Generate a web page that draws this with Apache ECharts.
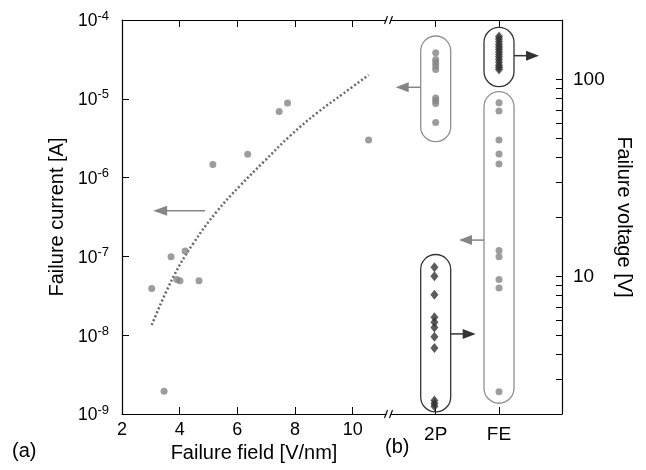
<!DOCTYPE html>
<html><head><meta charset="utf-8">
<script src="https://cdn.jsdelivr.net/npm/echarts@6/dist/echarts.min.js"></script>
<style>html,body{margin:0;padding:0;background:#fff}#c{width:646px;height:470px}</style>
</head><body><div id="c"></div>
<script>
// ---- Panel (a): failure current vs failure field ----
const fieldA   = [3.03, 3.46, 3.70, 3.90, 4.01, 4.19, 4.67, 5.15, 6.36, 7.45, 7.74, 10.55];
const currentA = [3.9e-8, 1.94e-9, 9.9e-8, 5.1e-8, 4.9e-8, 1.17e-7, 4.9e-8, 1.47e-6, 1.98e-6, 6.9e-6, 8.85e-6, 3.0e-6];
// dotted fit curve
const fitField   = [3.03, 3.78, 4.48, 5.29, 6.10, 6.91, 7.83, 8.76, 9.68, 10.55];
const fitCurrent = [1.35e-8, 5.5e-8, 1.48e-7, 3.72e-7, 7.94e-7, 1.58e-6, 3.39e-6, 6.61e-6, 1.17e-5, 2.0e-5];
const fieldTicks = [2, 4, 6, 8, 10];
const currentTicks = [1e-9, 1e-8, 1e-7, 1e-6, 1e-5, 1e-4];
// arrow in (a): [fromField, toField, current]
const arrowA = [[4.88, 3.08, 3.8e-7]];

// ---- Panel (b): categories ----
const groups = ['2P', 'FE'];           // x = 1, 2
const current2P = [3.85e-5, 3.16e-5, 2.89e-5, 2.61e-5, 2.35e-5, 1.02e-5, 9.5e-6, 8.7e-6, 5.0e-6];
const currentFE = [8.9e-6, 7.0e-6, 2.99e-6, 1.99e-6, 1.49e-6, 1.19e-7, 9.9e-8, 5.1e-8, 3.97e-8, 1.92e-9];
const voltageFE = [165, 160, 155, 150, 146, 142, 138, 134, 130, 126, 122, 118, 115, 112];
const voltage2P = [11.1, 10.0, 8.07, 6.19, 5.85, 5.50, 4.93, 4.32, 2.34, 2.26, 2.19];
const voltageTicks = [3, 4, 5, 6, 7, 8, 9, 10, 20, 30, 40, 50, 60, 70, 80, 90, 100];
const voltageLabels = [10, 100];
// group outlines: [group x, low, high]
const outlineCurrent = [[1, 2.86e-6, 6.27e-5], [2, 1.37e-9, 1.23e-5]];
const outlineVoltage = [[2, 91.8, 183.6], [1, 2.05, 12.9]];
// arrows: [group x, value, direction]
const arrowCurrent = [[1, 1.4e-5, -1], [2, 1.61e-7, -1]];
const arrowVoltage = [[2, 131.8, 1], [1, 5.1, 1]];

const FONT = 'Liberation Sans, Arial, Helvetica, sans-serif';
const GRAY = '#858585', DARK = '#333333';

const supLabel = {
  formatter: v => '{m|10}{s|' + Math.round(Math.log10(v)) + '}',
  rich: {
    m: {fontSize: 17.5, fontFamily: FONT, color: '#000', verticalAlign: 'bottom'},
    s: {fontSize: 13, fontFamily: FONT, color: '#000', verticalAlign: 'bottom', padding: [0, 0, 8, 0]}
  }
};

function outlineItem(color) {
  return function (params, api) {
    const x = api.value(0);
    const top = api.coord([x, api.value(2)]);
    const bot = api.coord([x, api.value(1)]);
    const w = 30;
    return {type: 'rect', shape: {x: top[0] - w / 2, y: top[1], width: w, height: bot[1] - top[1], r: w / 2},
      style: {fill: 'none', stroke: color, lineWidth: 1.3}};
  };
}
function arrowItem(color) {
  return function (params, api) {
    const p = api.coord([api.value(0), api.value(1)]);
    const d = api.value(2);
    const x0 = p[0] + d * 15, x1 = x0 + d * 25, y = p[1];
    return {type: 'group', children: [
      {type: 'line', shape: {x1: x0, y1: y, x2: x1 - d * 10, y2: y}, style: {stroke: color, lineWidth: 1.5}},
      {type: 'polygon', shape: {points: [[x1, y], [x1 - d * 13, y - 5], [x1 - d * 13, y + 5]]}, style: {fill: color}}
    ]};
  };
}

const chart = echarts.init(document.getElementById('c'));
chart.setOption({
  animation: false,
  backgroundColor: '#fff',
  textStyle: {fontFamily: FONT},
  grid: [
    {left: 122, top: 20, width: 264, height: 394},
    {left: 391, top: 20, width: 171, height: 394}
  ],
  xAxis: [
    {gridIndex: 0, type: 'value', position: 'bottom', min: 2, max: 11.154, interval: 2,
      axisLine: {lineStyle: {color: '#000', width: 1.2}},
      axisTick: {inside: true, length: 7, lineStyle: {color: '#000'}, customValues: fieldTicks},
      axisLabel: {fontSize: 18, color: '#000', margin: 7, fontFamily: FONT, customValues: fieldTicks},
      splitLine: {show: false},
      name: 'Failure field [V/nm]', nameLocation: 'middle', nameGap: 26,
      nameTextStyle: {fontSize: 20, color: '#000', fontFamily: FONT}},
    {gridIndex: 0, type: 'value', position: 'top', min: 2, max: 11.154, interval: 2,
      axisLine: {lineStyle: {color: '#000', width: 1.2}},
      axisTick: {inside: true, length: 7, lineStyle: {color: '#000'}, customValues: fieldTicks},
      axisLabel: {show: false}, splitLine: {show: false}},
    {gridIndex: 1, type: 'value', position: 'bottom', min: 0.294, max: 2.995,
      axisLine: {lineStyle: {color: '#000', width: 1.2}},
      axisTick: {inside: true, length: 7, lineStyle: {color: '#000'}, customValues: [1, 2]},
      axisLabel: {fontSize: 19, color: '#000', margin: 11, fontFamily: FONT, customValues: [1, 2],
        formatter: v => groups[Math.round(v) - 1] || ''},
      splitLine: {show: false}},
    {gridIndex: 1, type: 'value', position: 'top', min: 0.294, max: 2.995,
      axisLine: {lineStyle: {color: '#000', width: 1.2}},
      axisTick: {inside: true, length: 7, lineStyle: {color: '#000'}, customValues: [1, 2]},
      axisLabel: {show: false}, splitLine: {show: false}}
  ],
  yAxis: [
    {gridIndex: 0, type: 'log', logBase: 10, min: 1e-9, max: 1e-4, position: 'left',
      axisLine: {show: true, lineStyle: {color: '#000', width: 1.2}},
      axisTick: {show: true, inside: true, length: 7, lineStyle: {color: '#000'}, customValues: currentTicks},
      axisLabel: Object.assign({margin: 13, customValues: currentTicks}, supLabel),
      splitLine: {show: false}, minorTick: {show: false},
      name: 'Failure current [A]', nameLocation: 'middle', nameGap: 55, nameRotate: 90,
      nameTextStyle: {fontSize: 20, color: '#000', fontFamily: FONT}},
    {gridIndex: 1, type: 'log', logBase: 10, min: 1e-9, max: 1e-4, position: 'left',
      axisLine: {show: false}, axisTick: {show: false}, axisLabel: {show: false}, splitLine: {show: false}},
    {gridIndex: 1, type: 'log', logBase: 10, min: 2, max: 200, position: 'right',
      axisLine: {show: true, lineStyle: {color: '#000', width: 1.2}},
      axisTick: {show: true, inside: true, length: 6, lineStyle: {color: '#000'}, customValues: voltageTicks},
      axisLabel: {fontSize: 19, color: '#000', margin: 11, fontFamily: FONT, customValues: voltageLabels,
        formatter: v => String(Math.round(v))},
      splitLine: {show: false}, minorTick: {show: false},
      name: 'Failure voltage [V]', nameLocation: 'middle', nameGap: 52, nameRotate: -90,
      nameTextStyle: {fontSize: 20, color: '#000', fontFamily: FONT}}
  ],
  series: [
    {type: 'line', xAxisIndex: 0, yAxisIndex: 0, data: fitField.map((x, i) => [x, fitCurrent[i]]),
      smooth: 0.4, showSymbol: false, symbol: 'none',
      lineStyle: {color: '#6a6a6a', width: 2.5, type: [2, 2.3]}, z: 2},
    {type: 'scatter', xAxisIndex: 0, yAxisIndex: 0, data: fieldA.map((x, i) => [x, currentA[i]]),
      symbol: 'circle', symbolSize: 7, itemStyle: {color: GRAY}, z: 3},
    {type: 'custom', xAxisIndex: 0, yAxisIndex: 0, data: arrowA, clip: false,
      renderItem: (params, api) => {
        const a = api.coord([api.value(0), api.value(2)]);
        const b = api.coord([api.value(1), api.value(2)]);
        return {type: 'group', children: [
          {type: 'line', shape: {x1: a[0], y1: a[1], x2: b[0] + 10, y2: b[1]}, style: {stroke: GRAY, lineWidth: 1.5}},
          {type: 'polygon', shape: {points: [[b[0], b[1]], [b[0] + 14, b[1] - 5], [b[0] + 14, b[1] + 5]]}, style: {fill: GRAY}}
        ]};
      }},
    {type: 'scatter', xAxisIndex: 2, yAxisIndex: 1, data: current2P.map(v => [1, v]),
      symbol: 'circle', symbolSize: 7, itemStyle: {color: GRAY}, z: 3},
    {type: 'scatter', xAxisIndex: 2, yAxisIndex: 1, data: currentFE.map(v => [2, v]),
      symbol: 'circle', symbolSize: 7, itemStyle: {color: GRAY}, z: 3},
    {type: 'scatter', xAxisIndex: 2, yAxisIndex: 2, data: voltageFE.map(v => [2, v]),
      symbol: 'diamond', symbolSize: [8, 10], itemStyle: {color: DARK}, z: 3},
    {type: 'scatter', xAxisIndex: 2, yAxisIndex: 2, data: voltage2P.map(v => [0.98, v]),
      symbol: 'diamond', symbolSize: [8, 10], itemStyle: {color: DARK}, z: 3},
    {type: 'custom', xAxisIndex: 2, yAxisIndex: 1, data: outlineCurrent, clip: false, renderItem: outlineItem('#8f8f8f')},
    {type: 'custom', xAxisIndex: 2, yAxisIndex: 2, data: outlineVoltage, clip: false, renderItem: outlineItem(DARK)},
    {type: 'custom', xAxisIndex: 2, yAxisIndex: 1, data: arrowCurrent, clip: false, renderItem: arrowItem(GRAY)},
    {type: 'custom', xAxisIndex: 2, yAxisIndex: 2, data: arrowVoltage, clip: false, renderItem: arrowItem(DARK)}
  ],
  graphic: [
    {type: 'line', shape: {x1: 384.5, y1: 24, x2: 387.5, y2: 16}, style: {stroke: '#000', lineWidth: 1.1}},
    {type: 'line', shape: {x1: 389.5, y1: 24, x2: 392.5, y2: 16}, style: {stroke: '#000', lineWidth: 1.1}},
    {type: 'line', shape: {x1: 384.5, y1: 418, x2: 387.5, y2: 410}, style: {stroke: '#000', lineWidth: 1.1}},
    {type: 'line', shape: {x1: 389.5, y1: 418, x2: 392.5, y2: 410}, style: {stroke: '#000', lineWidth: 1.1}},
    {type: 'text', left: 12, top: 441, style: {text: '(a)', font: '20px ' + FONT, fill: '#000'}},
    {type: 'text', left: 385, top: 437, style: {text: '(b)', font: '20px ' + FONT, fill: '#000'}}
  ]
});
</script></body></html>
